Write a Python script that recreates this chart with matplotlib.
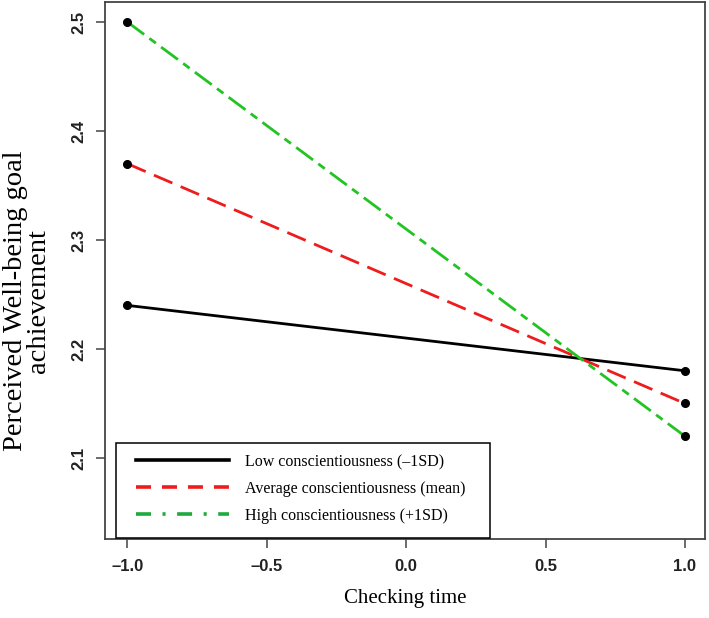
import matplotlib
matplotlib.use("Agg")
import matplotlib.pyplot as plt
from matplotlib.patches import Rectangle

# data
checking_time = [-1.0, 1.0]
low_consc = [2.24, 2.18]
avg_consc = [2.37, 2.15]
high_consc = [2.50, 2.12]
series_labels = ["Low conscientiousness (\u20131SD)",
                 "Average conscientiousness (mean)",
                 "High conscientiousness (+1SD)"]
x_ticks = [-1.0, -0.5, 0.0, 0.5, 1.0]
y_ticks = [2.1, 2.2, 2.3, 2.4, 2.5]

W, H = 709, 618
fig = plt.figure(figsize=(W / 100, H / 100), dpi=100)
ax = fig.add_axes([105 / W, 1 - 539 / H, 600 / W, 537 / H])

red = "#ee1c1c"
green = "#22c322"
green_leg = "#1eaa3c"

lw = 2.0
ax.plot(checking_time, low_consc, color="black", lw=lw)
ax.plot(checking_time, avg_consc, color=red, lw=lw,
        linestyle=(0, (14.4 / lw, 6.5 / lw)))
ax.plot(checking_time, high_consc, color=green, lw=lw,
        linestyle=(0, (15.1 / lw, 4.7 / lw, 5.8 / lw, 4.7 / lw)))
for ys in (low_consc, avg_consc, high_consc):
    ax.plot(checking_time, ys, "o", color="black", ms=5.5, zorder=5)

ax.set_xlim(-1.08, 1.072)
ax.set_ylim(2.0257, 2.5183)
ax.set_xticks(x_ticks)
ax.set_xticklabels([f"{v:.1f}".replace("-", "\u2013") for v in x_ticks])
ax.set_yticks(y_ticks)
ax.set_yticklabels([f"{v:.1f}" for v in y_ticks], rotation=90, va="center")

for lab in ax.get_xticklabels() + ax.get_yticklabels():
    lab.set_fontfamily("Liberation Sans")
    lab.set_fontweight("bold")
    lab.set_fontsize(12)
    lab.set_color("#222222")
ax.tick_params(axis="both", direction="out", length=6.5, width=1.1, color="#444444")
ax.tick_params(axis="x", pad=8)
ax.tick_params(axis="y", pad=7)
for sp in ax.spines.values():
    sp.set_linewidth(1.3)
    sp.set_color("#444444")

fig.text(405 / W, 1 - 598 / H, "Checking time", ha="center", va="center",
         family="Liberation Serif", fontsize=15)
fig.text(27 / W, 1 - 301 / H, "Perceived Well-being goal\nachievement",
         ha="center", va="center", rotation=90, multialignment="center",
         family="Liberation Serif", fontsize=20.5, linespacing=0.88)

# legend box
fig.add_artist(Rectangle((116 / W, 1 - 538 / H), (490 - 116) / W, (538 - 443) / H,
                         transform=fig.transFigure, facecolor="white",
                         edgecolor="black", lw=1.1, zorder=3))

# legend handles
llw = 2.6
h1, = ax.plot([], [], color="black", lw=llw)
h2, = ax.plot([], [], color=red, lw=llw, linestyle=(0, (10.8 / llw, 7.9 / llw)))
h3, = ax.plot([], [], color=green_leg, lw=llw,
              linestyle=(0, (10.8 / llw, 8.3 / llw, 2.2 / llw, 8.3 / llw)))
leg = fig.legend([h1, h2, h3], series_labels, loc="upper left",
                 bbox_to_anchor=(136 / W, 1 - 454 / H),
                 bbox_transform=fig.transFigure, borderaxespad=0, borderpad=0,
                 prop={"family": "Liberation Serif", "size": 11.5},
                 handlelength=5.8, handletextpad=1.0, labelspacing=0.68,
                 frameon=False)
leg.set_zorder(4)

fig.savefig("out.png", dpi=100)
